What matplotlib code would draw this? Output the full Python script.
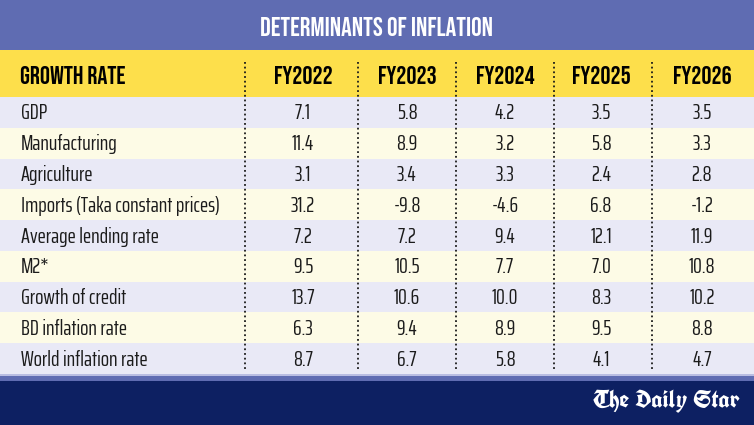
import matplotlib
matplotlib.use('Agg')
import matplotlib.pyplot as plt
from matplotlib import font_manager

title = 'DETERMINANTS OF INFLATION'
first_col = 'GROWTH RATE'
years = ['FY2022', 'FY2023', 'FY2024', 'FY2025', 'FY2026']
rows = ['GDP', 'Manufacturing', 'Agriculture', 'Imports (Taka constant prices)',
        'Average lending rate', 'M2*', 'Growth of credit', 'BD inflation rate',
        'World inflation rate']
fy2022 = [7.1, 11.4, 3.1, 31.2, 7.2, 9.5, 13.7, 6.3, 8.7]
fy2023 = [5.8, 8.9, 3.4, -9.8, 7.2, 10.5, 10.6, 9.4, 6.7]
fy2024 = [4.2, 3.2, 3.3, -4.6, 9.4, 7.7, 10.0, 8.9, 5.8]
fy2025 = [3.5, 5.8, 2.4, 6.8, 12.1, 7.0, 8.3, 9.5, 4.1]
fy2026 = [3.5, 3.3, 2.8, -1.2, 11.9, 10.8, 10.2, 8.8, 4.7]
columns = [fy2022, fy2023, fy2024, fy2025, fy2026]

# pick condensed faces if they are there, else shrink DejaVu
avail = set(f.name for f in font_manager.fontManager.ttflist)
if 'Bebas Neue' in avail:
    head_font, head_w, head_fs, title_fs = 'Bebas Neue', 'normal', 18, 19
else:
    head_font, head_w, head_fs, title_fs = 'DejaVu Sans', 'bold', 10, 12
if 'Saira ExtraCondensed' in avail:
    row_font, row_fs = 'Saira ExtraCondensed', 15.8
else:
    row_font, row_fs = 'DejaVu Sans', 9.5
if 'UnifrakturCook' in avail:
    logo_font, logo_fs = 'UnifrakturCook', 18
else:
    logo_font, logo_fs = 'DejaVu Serif', 15

# layout in pixels
W, H = 754, 425
title_bot = 50
head_bot = 97
table_bot = 374
row_h = (table_bot - head_bot) / len(rows)
col_x = [303, 407, 505, 601, 702]
seps = [245, 358, 456, 554, 652]

blue = '#5f6cb2'
yellow = '#fddf4b'
lav = '#e9e9f6'
cream = '#fdfbe6'
navy = '#0d2062'
ink = '#1b1b1b'

fig = plt.figure(figsize=(W/100, H/100), dpi=100)
ax = fig.add_axes([0, 0, 1, 1])
ax.set_xlim(0, W)
ax.set_ylim(H, 0)
ax.axis('off')

ax.axhspan(0, title_bot, color=blue, lw=0)
ax.text(W/2, title_bot/2 + 1, title, ha='center', va='center', color='white',
        fontsize=title_fs, fontweight=head_w, family=[head_font, 'DejaVu Sans'])

ax.axhspan(title_bot, head_bot, color=yellow, lw=0)
hy = (title_bot + head_bot)/2 + 1
ax.text(20, hy, first_col, ha='left', va='center', color='black',
        fontsize=head_fs, fontweight=head_w, family=[head_font, 'DejaVu Sans'])
for x, yr in zip(col_x, years):
    ax.text(x, hy, yr, ha='center', va='center', color='black',
            fontsize=head_fs, fontweight=head_w, family=[head_font, 'DejaVu Sans'])

for i, lab in enumerate(rows):
    y0 = head_bot + i*row_h
    ax.axhspan(y0, y0 + row_h, color=lav if i % 2 == 0 else cream, lw=0)
    yc = y0 + row_h/2 + 1
    ax.text(21, yc, lab, ha='left', va='center', color=ink, fontsize=row_fs,
            family=[row_font, 'DejaVu Sans'])
    for x, col in zip(col_x, columns):
        ax.text(x, yc, '%.1f' % col[i], ha='center', va='center', color=ink,
                fontsize=row_fs, family=[row_font, 'DejaVu Sans'])

for x in seps:
    ax.plot([x, x], [62, table_bot - 4], color=ink, lw=1.3,
            linestyle=(0, (1, 1.6)))

# footer
ax.axhspan(table_bot, table_bot + 2, color='#b9bde2', lw=0)
ax.axhspan(table_bot + 2, table_bot + 7, color=blue, lw=0)
ax.axhspan(table_bot + 7, H, color=navy, lw=0)
ax.text(740, 401, 'The Daily Star', ha='right', va='center', color='white',
        fontsize=logo_fs, fontweight='bold', family=[logo_font, 'DejaVu Serif'])

plt.savefig('out.png', dpi=100)
